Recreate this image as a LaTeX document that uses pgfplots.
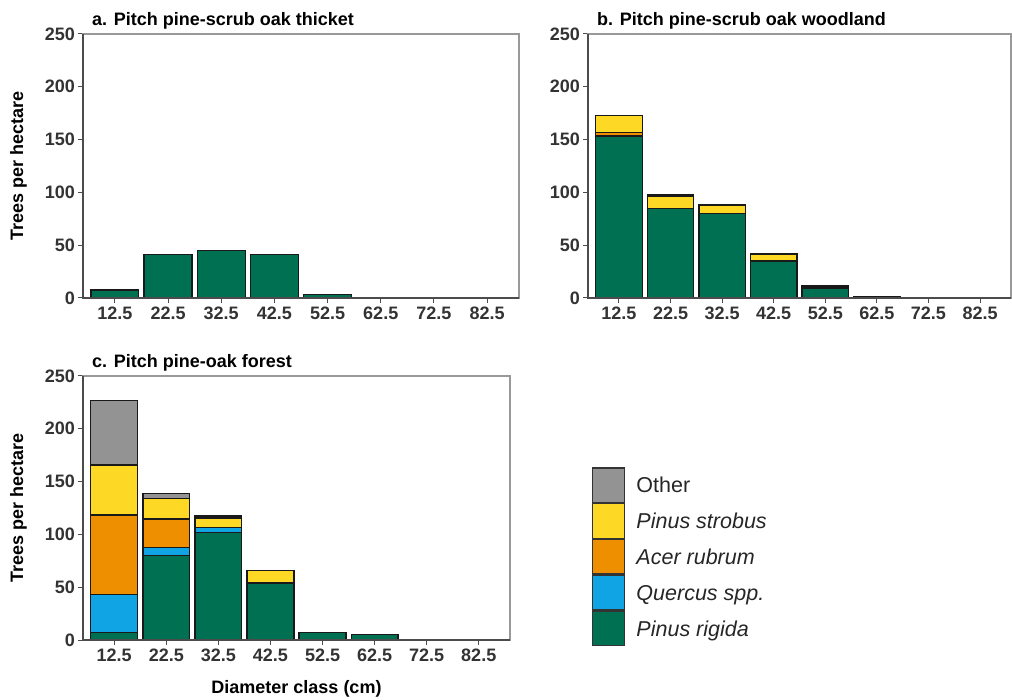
\documentclass[border=0pt]{standalone}
\usepackage{fontspec}
\setmainfont{Liberation Sans}
\usepackage{pgfplots}
\pgfplotsset{compat=1.18}
\definecolor{cRig}{RGB}{0,112,82}
\definecolor{cQue}{RGB}{17,164,228}
\definecolor{cAce}{RGB}{238,143,0}
\definecolor{cStr}{RGB}{253,217,38}
\definecolor{cOth}{RGB}{147,147,147}
\pgfplotsset{
  panel/.style={
    scale only axis, ybar stacked, bar width=0.9,
    xmin=-0.6, xmax=7.6, ymin=0, ymax=250, enlargelimits=false,
    xtick={0,1,2,3,4,5,6,7},
    xticklabels={12.5,22.5,32.5,42.5,52.5,62.5,72.5,82.5},
    ytick={0,50,100,150,200,250},
    tick pos=left, tick align=outside, major tick length=5pt,
    tick style={black!70, line width=1pt},
    axis line style={black!40, line width=1.3pt},
    ticklabel style={font=\fontsize{18}{18}\selectfont\bfseries, text=black!80},
    /pgf/number format/assume math mode=true,
    xticklabel style={inner sep=4pt},
    yticklabel style={inner sep=3pt},
    axis on top,
    height=264pt,
    every axis title/.style={at={([xshift=9pt,yshift=8pt]axis description cs:0,1)}, anchor=base west, inner sep=0pt, font=\fontsize{18}{18}\selectfont\bfseries},
    every axis y label/.style={at={([xshift=-64.5pt]axis description cs:0,0.5)}, rotate=90, anchor=center, inner sep=0pt, font=\fontsize{18}{18}\selectfont\bfseries},
    every axis x label/.style={at={([yshift=-53pt]axis description cs:0.5,0)}, anchor=base, inner sep=0pt, font=\fontsize{18}{18}\selectfont\bfseries},
    after end axis/.code={\draw[black!70, line width=1.3pt] (rel axis cs:0,1) -- (rel axis cs:0,0) -- (rel axis cs:1,0);},
  },
  sp/.style={fill=#1, draw=black!90, line width=1.3pt,
    legend image code/.code={\draw[fill=#1, draw=black!80, line width=1.3pt] (0pt,-17.25pt) rectangle (32pt,17.25pt); \path (43pt,0pt);}},
}
\begin{document}
\begin{tikzpicture}
\useasboundingbox (0,0) rectangle (1012pt,699pt);
% panel a
\begin{axis}[panel, at={(83pt,401pt)}, anchor=south west, width=436pt,
  title={a. Pitch pine-scrub oak thicket}, ylabel={Trees per hectare}]
\addplot[sp=cRig] coordinates {(0,7.5) (1,41) (2,45) (3,41) (4,3) (5,0) (6,0) (7,0)};
\end{axis}
% panel b
\begin{axis}[panel, at={(588pt,401pt)}, anchor=south west, width=423pt,
  title={b. Pitch pine-scrub oak woodland}]
\addplot[sp=cRig] coordinates {(0,153.5) (1,85) (2,80) (3,35) (4,9.5) (5,1.5) (6,0) (7,0)};
\addplot[sp=cAce] coordinates {(0,3.5) (1,0) (2,0) (3,0) (4,2) (5,0) (6,0) (7,0)};
\addplot[sp=cStr] coordinates {(0,15.5) (1,11.5) (2,7.5) (3,6) (4,0) (5,0) (6,0) (7,0)};
\addplot[sp=cOth] coordinates {(0,0) (1,1.5) (2,1) (3,1) (4,0) (5,0) (6,0) (7,0)};
\end{axis}
% panel c
\begin{axis}[panel, at={(83pt,59pt)}, anchor=south west, width=427pt,
  title={c. Pitch pine-oak forest}, ylabel={Trees per hectare}, xlabel={Diameter class (cm)},
  reverse legend, legend cell align=left,
  legend style={at={(1.192,0.655)}, anchor=north west, draw=none, fill=none, inner sep=0pt,
    row sep=0pt, column sep=0pt, font=\fontsize{21.5}{21.5}\selectfont, text=black!85,
    nodes={inner sep=0pt, text depth=0pt}}]
\addplot[sp=cRig] coordinates {(0,7.3) (1,80) (2,102) (3,54) (4,7.3) (5,5.4) (6,0) (7,0)};
\addlegendentry{\textit{Pinus rigida}}
\addplot[sp=cQue] coordinates {(0,36) (1,7.5) (2,4.5) (3,0) (4,0) (5,0) (6,0) (7,0)};
\addlegendentry{\textit{Quercus spp.}}
\addplot[sp=cAce] coordinates {(0,75) (1,27) (2,0) (3,0) (4,0) (5,0) (6,0) (7,0)};
\addlegendentry{\textit{Acer rubrum}}
\addplot[sp=cStr] coordinates {(0,47.5) (1,19.5) (2,9) (3,12) (4,0) (5,0) (6,0) (7,0)};
\addlegendentry{\textit{Pinus strobus}}
\addplot[sp=cOth] coordinates {(0,61) (1,5) (2,2) (3,0) (4,0) (5,0) (6,0) (7,0)};
\addlegendentry{Other}
\end{axis}
\end{tikzpicture}
\end{document}
